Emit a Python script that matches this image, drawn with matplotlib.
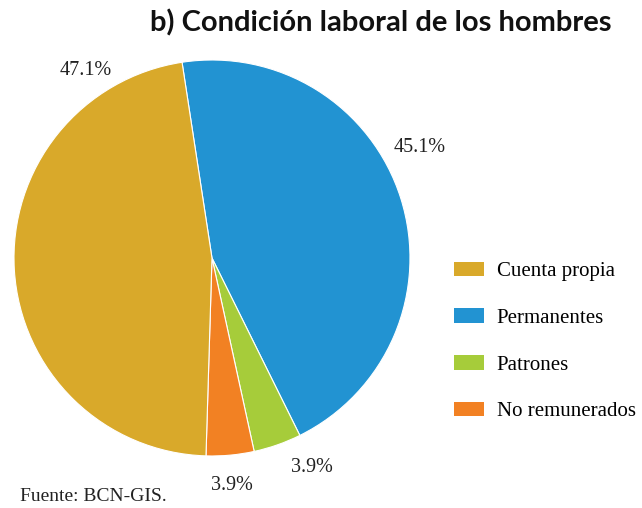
import numpy as np
import matplotlib.pyplot as plt
from matplotlib.patches import Patch

# data
categorias = ['Permanentes', 'Patrones', 'No remunerados', 'Cuenta propia']
porcentajes = [45.1, 3.9, 3.9, 47.1]
colores = ['#2293D2', '#A6CC3A', '#F28123', '#D9A92A']
orden_leyenda = ['Cuenta propia', 'Permanentes', 'Patrones', 'No remunerados']
etiquetas = ['45.1%', '3.9%', '3.9%', '47.1%']

# label placement (angle in degrees, radius as fraction of pie radius)
pos_etiquetas = [(28.0, 1.19), (-64.5, 1.17), (-85.0, 1.155), (124.0, 1.14)]

fig = plt.figure(figsize=(6.42, 5.08), dpi=100)
ax = fig.add_axes([0.0218, 0.1024, 0.6168, 0.7795])
wedges, _ = ax.pie(porcentajes, colors=colores, startangle=98.7, counterclock=False,
                   wedgeprops=dict(edgecolor='white', linewidth=0.8))
ax.set_xlim(-1, 1)
ax.set_ylim(-1, 1)
ax.set_aspect('equal')

for txt, (ang, r) in zip(etiquetas, pos_etiquetas):
    a = np.deg2rad(ang)
    ax.text(r * np.cos(a), r * np.sin(a), txt, ha='center', va='center',
            fontsize=14.5, family='Liberation Serif', color='#222222', clip_on=False)

handles = [Patch(facecolor=colores[categorias.index(c)], edgecolor='none') for c in orden_leyenda]
fig.legend(handles, orden_leyenda, loc='center left', bbox_to_anchor=(0.691, 0.328),
           frameon=False, prop={'family': 'Liberation Serif', 'size': 15},
           handlelength=1.45, handleheight=0.7, handletextpad=0.6, labelspacing=1.3,
           borderpad=0)

fig.text(0.953, 0.955, 'b) Condición laboral de los hombres', ha='right', va='center',
         fontsize=21, fontweight='bold', family='Lato', color='#111111')
fig.text(0.031, 0.006, 'Fuente: BCN-GIS.', ha='left', va='bottom',
         fontsize=14, family='Liberation Serif', color='#222222')

plt.savefig('out.png', dpi=100)
